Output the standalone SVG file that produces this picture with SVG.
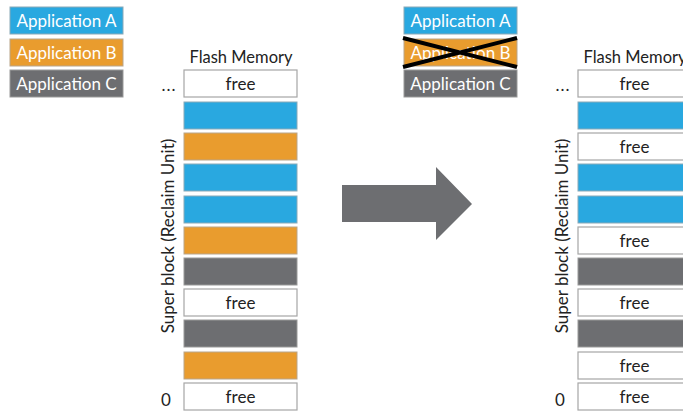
<svg xmlns="http://www.w3.org/2000/svg" width="683" height="413" viewBox="0 0 683 413">
<style>
text{font-family:Lato,"Noto Sans","Liberation Sans",sans-serif;font-size:17px;}
.a{fill:#29a8e0;stroke:#8aa9b8;stroke-width:1}
.b{fill:#e99c2e;stroke:#b9a58a;stroke-width:1}
.c{fill:#6d6e71;stroke:#999;stroke-width:1}
.f{fill:#fff;stroke:#a6a6a6;stroke-width:1.2}
.lt{fill:#fff;text-anchor:middle}
.t{fill:#222;text-anchor:middle}
</style>
<defs>
<g id="legend">
<rect class="a" x="10" y="7" width="113" height="27"/>
<text class="lt" x="66.5" y="26.5">Application A</text>
<rect class="b" x="10" y="39" width="113" height="27"/>
<text class="lt" x="66.5" y="58.5">Application B</text>
<rect class="c" x="10" y="70" width="113" height="27"/>
<text class="lt" x="66.5" y="89.5">Application C</text>
</g>
<g id="labels">
<text class="t" x="241" y="63" style="font-size:16.5px">Flash Memory</text>
<text class="t" x="169" y="91" letter-spacing="1">...</text>
<text class="t" x="166" y="406">0</text>
<text class="t" transform="translate(174 236) rotate(-90)">Super block (Reclaim Unit)</text>
</g>
</defs>
<g id="left">
<use href="#legend"/>
<use href="#labels"/>
<g id="left-blocks">
<rect class="f" x="184" y="70" width="113" height="27"/><text class="t" x="240.5" y="89.5">free</text>
<rect class="a" x="184" y="102" width="113" height="27"/>
<rect class="b" x="184" y="133" width="113" height="27"/>
<rect class="a" x="184" y="164" width="113" height="27"/>
<rect class="a" x="184" y="196" width="113" height="27"/>
<rect class="b" x="184" y="227" width="113" height="27"/>
<rect class="c" x="184" y="258" width="113" height="27"/>
<rect class="f" x="184" y="289" width="113" height="27"/><text class="t" x="240.5" y="308.5">free</text>
<rect class="c" x="184" y="320" width="113" height="27"/>
<rect class="b" x="184" y="352" width="113" height="27"/>
<rect class="f" x="184" y="383" width="113" height="27"/><text class="t" x="240.5" y="402.5">free</text>
</g>
</g>
<g id="arrow">
<polygon points="342,185 436,185 436,167 472,204 436,240 436,222 342,222" fill="#6d6e71"/>
</g>
<g id="right" transform="translate(394 0)">
<use href="#legend"/>
<path d="M9,38 L123,67 M9,67 L123,38" stroke="#000" stroke-width="4"/>
<use href="#labels"/>
<g id="right-blocks">
<rect class="f" x="184" y="70" width="113" height="27"/><text class="t" x="240.5" y="89.5">free</text>
<rect class="a" x="184" y="102" width="113" height="27"/>
<rect class="f" x="184" y="133" width="113" height="27"/><text class="t" x="240.5" y="152.5">free</text>
<rect class="a" x="184" y="164" width="113" height="27"/>
<rect class="a" x="184" y="196" width="113" height="27"/>
<rect class="f" x="184" y="227" width="113" height="27"/><text class="t" x="240.5" y="246.5">free</text>
<rect class="c" x="184" y="258" width="113" height="27"/>
<rect class="f" x="184" y="289" width="113" height="27"/><text class="t" x="240.5" y="308.5">free</text>
<rect class="c" x="184" y="320" width="113" height="27"/>
<rect class="f" x="184" y="352" width="113" height="27"/><text class="t" x="240.5" y="371.5">free</text>
<rect class="f" x="184" y="383" width="113" height="27"/><text class="t" x="240.5" y="402.5">free</text>
</g>
</g>
</svg>
